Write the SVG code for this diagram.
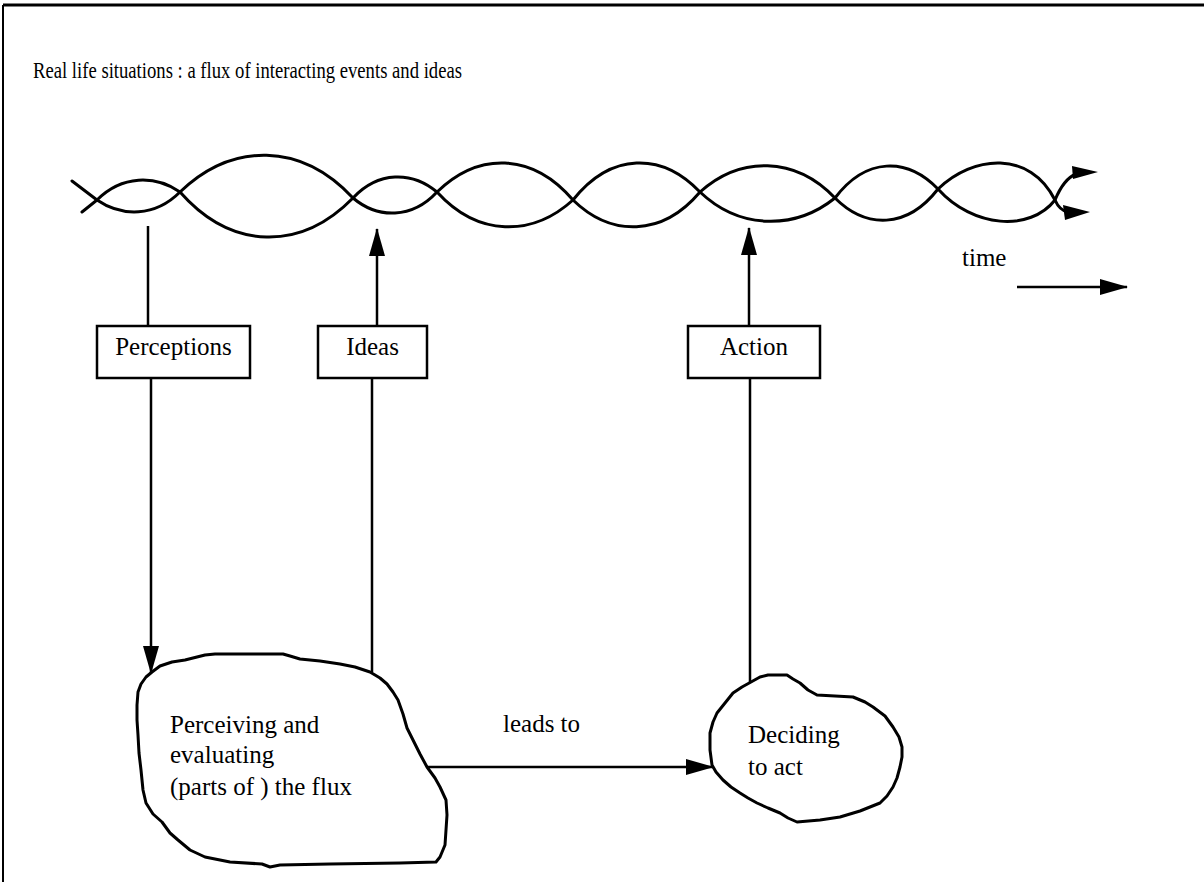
<svg xmlns="http://www.w3.org/2000/svg" width="1204" height="882" viewBox="0 0 1204 882">
  <style>
    .txt { font-family: "Liberation Serif", "Times New Roman", serif; font-size: 25px; fill: #000; }
    .title { font-size: 24px; }
    .wave { fill: none; stroke: #000; stroke-width: 3; stroke-linejoin: round; stroke-linecap: round; }
    .blob { fill: #fff; stroke: #000; stroke-width: 3; stroke-linejoin: round; }
    .box { fill: #fff; stroke: #000; stroke-width: 2.5; }
    .conn { fill: none; stroke: #000; stroke-width: 2.5; }
    .head { fill: #000; stroke: none; }
  </style>
  <defs>
    <marker id="arrow" markerUnits="userSpaceOnUse" markerWidth="28" markerHeight="16" refX="27" refY="8" orient="auto">
      <path d="M0,0 L28,8 L0,16 Z" fill="#000"/>
    </marker>
  </defs>

  <rect width="1204" height="882" fill="#fff"/>

  <!-- page frame -->
  <g id="frame" fill="none" stroke="#000">
    <line x1="3" y1="5" x2="1204" y2="5" stroke-width="3"/>
    <line x1="3" y1="5" x2="3" y2="882" stroke-width="2"/>
  </g>

  <!-- heading set in a condensed width -->
  <text id="title" class="txt title" x="33" y="78" textLength="429" lengthAdjust="spacingAndGlyphs">Real life situations : a flux of interacting events and ideas</text>

  <!-- flux: two intertwined strands running along time -->
  <g id="flux">
    <path class="wave" d="M72,181 L97,200 C122,217 155,217 180,192 C232,142 301,142 353,198 C378,219 412,219 437,192 C478,152 532,152 573,200 C611,237 662,237 700,192 C740,156 795,156 835,198 C866,229 907,229 938,189 C973,155 1030,150 1055,200 C1058,207 1062,211 1068,212"/>
    <path class="wave" d="M82,212 L97,200 C122,175 155,175 180,192 C232,251 301,251 353,198 C378,171 412,171 437,192 C478,237 532,237 573,200 C611,152 662,152 700,192 C740,230 795,230 835,198 C866,157 907,157 938,189 C973,228 1030,232 1055,200 C1060,188 1066,178 1076,174"/>
    <polygon class="head" points="1072,166 1098,172 1073,179"/>
    <polygon class="head" points="1063,205 1090,212 1065,220"/>
  </g>

  <!-- time axis -->
  <g id="time">
    <text class="txt" x="962" y="266">time</text>
    <line class="conn" x1="1017" y1="287" x2="1127" y2="287" marker-end="url(#arrow)"/>
  </g>

  <!-- connectors -->
  <g id="connectors">
    <line class="conn" x1="148" y1="226" x2="148" y2="326"/>
    <line class="conn" x1="151" y1="378" x2="151" y2="673" marker-end="url(#arrow)"/>
    <line class="conn" x1="372" y1="672" x2="372" y2="378"/>
    <line class="conn" x1="377" y1="326" x2="377" y2="229" marker-end="url(#arrow)"/>
    <line class="conn" x1="750" y1="682" x2="750" y2="378"/>
    <line class="conn" x1="749" y1="326" x2="749" y2="228" marker-end="url(#arrow)"/>
    <line class="conn" x1="427" y1="767" x2="713" y2="767" marker-end="url(#arrow)"/>
  </g>

  <g id="perceptions">
    <rect class="box" x="97" y="326" width="153" height="52"/>
    <text class="txt" x="173.5" y="355" text-anchor="middle">Perceptions</text>
  </g>

  <g id="ideas">
    <rect class="box" x="318" y="326" width="109" height="52"/>
    <text class="txt" x="372.5" y="355" text-anchor="middle">Ideas</text>
  </g>

  <g id="action">
    <rect class="box" x="688" y="326" width="132" height="52"/>
    <text class="txt" x="754" y="355" text-anchor="middle">Action</text>
  </g>

  <g id="perceiving">
    <path class="blob" d="M152,672 L160,666 L172,662 L185,660 L197,657 L205,655 L215,654 L283,654 L290,656 L300,659 L320,661 L340,664 L355,667 L370,672 L380,678 L387,684 L393,692 L398,700 L403,714 L407,728 L413,740 L420,754 L427,767 L435,778 L440,787 L446,800 L447,815 L446,830 L445,845 L440,857 L436,862 L400,863 L330,864 L280,865 L270,867 L262,864 L230,862 L205,857 L190,850 L178,840 L170,833 L162,822 L153,814 L146,803 L143,790 L141,770 L139,753 L138,735 L137,720 L137,705 L138,692 L141,684 L146,677 Z"/>
    <text class="txt" x="170" y="733">Perceiving and</text>
    <text class="txt" x="170" y="763">evaluating</text>
    <text class="txt" x="170" y="795">(parts of ) the flux</text>
  </g>

  <text id="leads-to" class="txt" x="503" y="732">leads to</text>

  <g id="deciding">
    <path class="blob" d="M751,682 L760,677 L768,675 L787,675 L793,679 L800,683 L808,690 L817,695 L835,696 L853,697 L865,702 L873,707 L885,716 L893,727 L899,737 L902,747 L902,757 L900,767 L897,778 L893,787 L887,796 L880,803 L860,811 L840,817 L820,820 L797,822 L788,818 L780,813 L768,808 L757,803 L748,798 L740,793 L731,787 L723,780 L716,772 L712,765 L710,750 L710,733 L713,722 L717,713 L725,703 L733,693 L742,687 Z"/>
    <text class="txt" x="748" y="743">Deciding</text>
    <text class="txt" x="748" y="775">to act</text>
  </g>
</svg>
